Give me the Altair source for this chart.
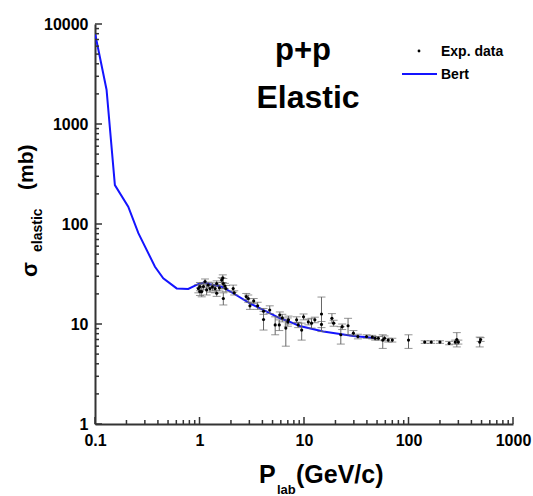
import altair as alt
import pandas as pd

# ---- Bert model curve ----
bert_p = [0.1, 0.129, 0.155, 0.208, 0.26, 0.375, 0.45, 0.605, 0.78, 0.97, 1.1,
          1.26, 1.63, 2.1, 3.04, 4.4, 5.9, 7.35, 9.1, 15.3, 29.6, 39.8, 48]
bert_s = [8100, 2200, 245, 149, 81, 37.4, 28.6, 22.7, 22.4, 25, 26,
          25, 23.6, 20.3, 16.1, 13.3, 11.4, 10.5, 9.55, 8.4, 7.6, 7.36, 7.2]

# ---- Experimental data (momentum, sigma, low, high) ----
exp_p = [0.975, 1.01, 1.01, 1.05, 1.09, 1.13, 1.17, 1.21, 1.26, 1.33, 1.41, 1.46, 1.46,
         1.55, 1.63, 1.67, 1.69, 1.69, 1.75, 1.79, 2.1, 2.15, 2.8, 2.93, 3.04, 3.3,
         3.6, 4.1, 4.1, 4.7, 5.3, 5.8, 5.87, 6.2, 6.7, 7.0, 7.1, 8.5, 8.8, 9.5, 9.9,
         11.0, 11.8, 12.7, 14.7, 14.7, 18.5, 19.2, 22.5, 23.2, 26.4, 29.7, 32.8,
         39.7, 45, 48, 51.5, 56.7, 59, 64, 70, 100, 143, 165, 200, 245, 280, 290,
         300, 480, 490]
exp_s = [22.6, 23.7, 21.1, 21.1, 23.7, 26.6, 21.9, 24.5, 22.6, 23.5, 22.6, 25.4, 20.3,
         23.0, 27.5, 28.9, 25.4, 18.0, 24.0, 22.6, 22.6, 20.5, 18.8, 18.0, 15.2, 17.0,
         15.2, 13.4, 11.1, 13.8, 9.8, 9.8, 12.3, 11.5, 9.1, 10.5, 11.0, 11.0, 9.8, 8.7, 11.8,
         10.5, 10.2, 11.0, 12.6, 9.9, 11.4, 10.2, 7.8, 9.4, 9.6, 8.1, 7.5,
         7.5, 7.4, 7.2, 7.2, 6.9, 7.2, 6.9, 6.9, 6.9, 6.6, 6.6, 6.6, 6.4, 6.6, 7.0,
         6.6, 6.6, 7.0]
exp_lo = [20.5, 21.5, 19.3, 18.7, 22.0, 25.0, 19.5, 23.0, 20.8, 21.5, 20.5, 23.8, 18.9,
          21.4, 26.0, 26.0, 22.6, 15.5, 22.5, 21.0, 20.8, 19.5, 17.5, 16.5, 14.0, 16.0,
          14.0, 12.5, 8.7, 12.7, 7.8, 8.6, 11.5, 10.5, 6.0, 9.5, 10.0, 10.3, 9.2, 6.9, 11.0,
          9.8, 9.1, 10.3, 8.4, 9.2, 10.2, 9.5, 6.3, 8.8, 7.8, 7.6, 7.1,
          7.2, 7.1, 6.9, 6.9, 5.7, 6.8, 6.6, 6.6, 5.7, 6.4, 6.4, 6.4, 6.2, 6.3, 5.9,
          6.3, 5.9, 6.7]
exp_hi = [24.8, 26.0, 23.0, 23.5, 25.6, 28.2, 24.5, 26.2, 24.5, 25.8, 24.8, 27.0, 21.8,
          24.7, 29.0, 31.0, 28.5, 20.5, 25.5, 24.3, 24.5, 21.5, 20.2, 19.5, 16.5, 18.0,
          16.5, 14.3, 13.4, 15.2, 11.8, 11.0, 13.2, 12.5, 11.0, 11.5, 12.0, 11.8, 10.4, 10.2, 12.6,
          11.2, 11.4, 11.7, 18.6, 10.6, 12.7, 10.9, 9.4, 10.0, 11.4, 8.6, 7.9,
          7.8, 7.7, 7.5, 7.5, 7.8, 7.6, 7.2, 7.2, 7.8, 6.8, 6.8, 6.8, 6.7, 6.9, 8.2,
          6.9, 7.4, 7.3]

# ---- Axis ticks ----
x_labels = [0.1, 1, 10, 100, 1000]
y_labels = [1, 10, 100, 1000, 10000]
mult = [2, 3, 4, 5, 6, 7, 8, 9]
x_minor = [m * d for d in [0.1, 1, 10, 100] for m in mult]
y_minor = [m * d for d in [1, 10, 100, 1000] for m in mult]

W, H = 418, 400
FONT = "Liberation Sans"
AXC = "#333333"

xs = alt.Scale(type="log", domain=[0.1, 1000], nice=False)
ys = alt.Scale(type="log", domain=[1, 10000], nice=False)

x_axis = alt.Axis(values=x_labels, format="~g", ticks=False, tickSize=0, grid=False,
                  domainColor=AXC, domainWidth=2, labelFont=FONT,
                  labelFontWeight="bold", labelFontSize=16, labelColor="black",
                  labelPadding=8, labelFlush=False, labelOverlap=False, title=None)
y_axis = alt.Axis(values=y_labels, format="~g", ticks=False, tickSize=0, grid=False,
                  domainColor=AXC, domainWidth=2, labelFont=FONT,
                  labelFontWeight="bold", labelFontSize=16, labelColor="black",
                  labelPadding=7, labelFlush=False, labelOverlap=False, title=None)

bert = pd.DataFrame({"p": bert_p, "s": bert_s})
exp = pd.DataFrame({"p": exp_p, "s": exp_s, "lo": exp_lo, "hi": exp_hi})

X = lambda f: alt.X(f, scale=xs, axis=x_axis, title=None)
Y = lambda f: alt.Y(f, scale=ys, axis=y_axis, title=None)

base_line = alt.Chart(bert).mark_line(color="#1414ff", strokeWidth=2, clip=True).encode(
    x=X("p:Q"), y=Y("s:Q"))

err_rule = alt.Chart(exp).mark_rule(color="#666666", strokeWidth=1).encode(
    x=X("p:Q"), y=Y("lo:Q"), y2="hi:Q")
cap_lo = alt.Chart(exp).mark_tick(color="#666666", orient="horizontal", size=8, thickness=1).encode(
    x=X("p:Q"), y=Y("lo:Q"))
cap_hi = alt.Chart(exp).mark_tick(color="#666666", orient="horizontal", size=8, thickness=1).encode(
    x=X("p:Q"), y=Y("hi:Q"))
pts = alt.Chart(exp).mark_circle(color="black", size=10, opacity=1).encode(
    x=X("p:Q"), y=Y("s:Q"))

def xticks(vals, length):
    return alt.Chart(pd.DataFrame({"v": vals})).mark_rule(color=AXC, strokeWidth=1.5).encode(
        x=X("v:Q"), y=alt.value(H), y2=alt.value(H - length))

def yticks(vals, length):
    return alt.Chart(pd.DataFrame({"v": vals})).mark_rule(color=AXC, strokeWidth=1.5).encode(
        y=Y("v:Q"), x=alt.value(0), x2=alt.value(length))

one = pd.DataFrame({"k": [0]})

def txt(s, x, y, size, angle=0, align="left"):
    kw = dict(font=FONT, fontWeight="bold", fontSize=size, color="black",
              align=align, baseline="alphabetic")
    enc = dict(x=alt.value(x), y=alt.value(y), text=alt.value(s))
    if angle:
        enc["angle"] = alt.value(angle)
    return alt.Chart(one).mark_text(**kw).encode(**enc)

# legend
leg_dot = alt.Chart(one).mark_circle(color="black", size=8, opacity=1).encode(
    x=alt.value(324), y=alt.value(27))
leg_line = alt.Chart(one).mark_rule(color="#1414ff", strokeWidth=2).encode(
    x=alt.value(307), x2=alt.value(342), y=alt.value(50))

layers = [
    base_line,
    xticks(x_labels, 7), xticks(x_minor, 4),
    yticks(y_labels, 7), yticks(y_minor, 4),
    err_rule, cap_lo, cap_hi, pts,
    leg_dot, leg_line,
    txt("Exp. data", 346, 32, 14),
    txt("Bert", 346, 55, 14),
    txt("p+p", 208, 36, 31, align="center"),
    txt("Elastic", 213, 84, 32, align="center"),
    txt("P", 164, 459, 25),
    txt("lab", 182, 470, 13),
    txt("(GeV/c)", 201, 459, 25),
    txt("σ", -58, 253, 22, angle=270),
    txt("elastic", -53, 228, 14, angle=270),
    txt("(mb)", -62, 166, 21, angle=270),
]

chart = alt.layer(*layers).properties(
    width=W, height=H,
    autosize=alt.AutoSizeParams(type="none"),
    padding={"left": 95, "top": 24, "right": 20, "bottom": 72},
    background="white",
).configure_view(stroke=None)

chart.save("out.html", embed_options={"renderer": "svg", "actions": False})
